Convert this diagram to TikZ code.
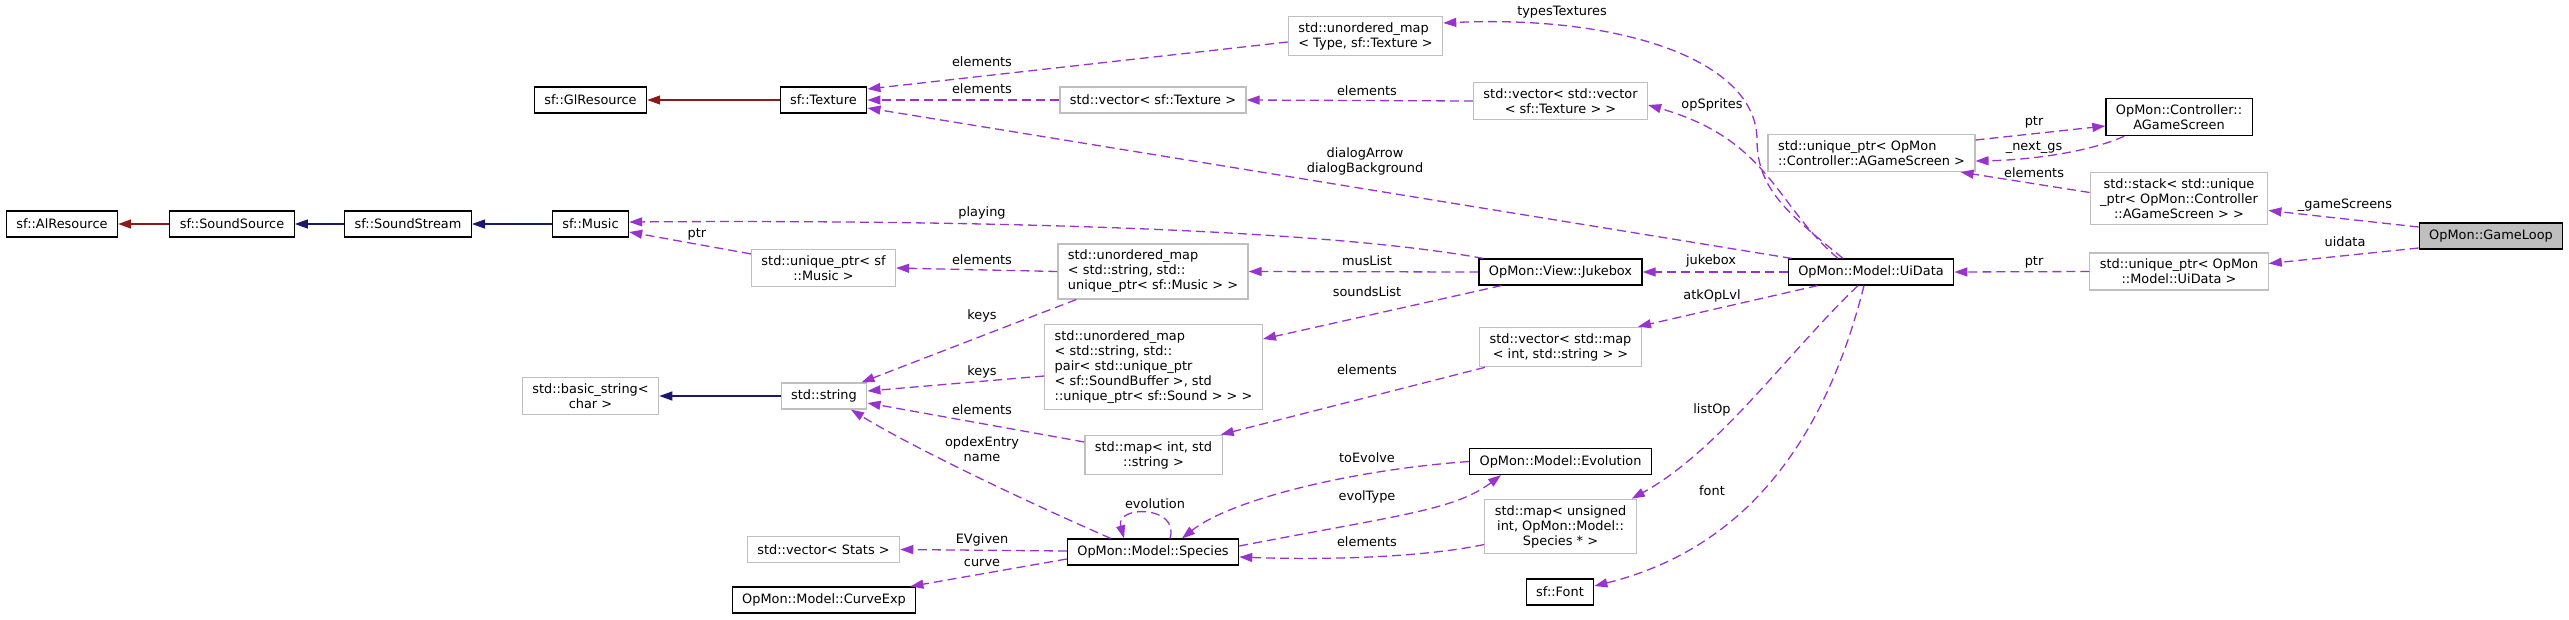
\documentclass[tikz,border=0pt]{standalone}
\usepackage{fontspec}
\setmainfont{DejaVu Sans}
\usetikzlibrary{arrows.meta}
\definecolor{orchid}{HTML}{9A32CD}
\definecolor{firebrick}{HTML}{8B1A1A}
\definecolor{midnight}{HTML}{191970}
\definecolor{grey75}{HTML}{BFBFBF}

\begin{document}
\begin{tikzpicture}[x=1pt, y=-1pt,
    cls/.style={rectangle, draw=black, line width=1.2pt, fill=white, inner xsep=10pt, inner ysep=6pt, minimum height=26pt, align=center, font=\fontsize{12.9}{15}\selectfont},
    tmpl/.style={cls, draw=grey75},
    root/.style={cls, fill=grey75},
    lbl/.style={inner sep=0pt, align=center, font=\fontsize{12.9}{15}\selectfont},
    inherit/.style={line width=1.3pt, -{Triangle[length=13pt, width=9pt]}},
    usage/.style={draw=orchid, line width=1.3pt, dash pattern=on 9pt off 5pt, -{Triangle[length=13pt, width=9pt]}}]

    \useasboundingbox (0,0) rectangle (2569,619);

    \node [cls] (alres) at (62,224) {sf::AlResource};
    \node [cls] (sndsrc) at (232,224) {sf::SoundSource};
    \node [cls] (sndstream) at (408,224) {sf::SoundStream};
    \node [cls] (music) at (590.5,224) {sf::Music};
    \node [cls] (glres) at (590.5,100) {sf::GlResource};
    \node [cls] (texture) at (823.5,100) {sf::Texture};
    \node [tmpl] (uptrmusic) at (823.5,268) {std::unique\_ptr< sf\\::Music >};
    \node [tmpl] (basicstr) at (590.5,396) {std::basic\_string<\\char >};
    \node [tmpl] (string) at (824,396) {std::string};
    \node [tmpl] (vecstats) at (823.5,549.5) {std::vector< Stats >};
    \node [cls] (curve) at (824,600) {OpMon::Model::CurveExp};
    \node [tmpl, align=left] (umaptype) at (1365.5,36) {std::unordered\_map\\< Type, sf::Texture >};
    \node [tmpl] (vectex) at (1153,100) {std::vector< sf::Texture >};
    \node [tmpl, align=left] (umapmusic) at (1153,271.5) {std::unordered\_map\\< std::string, std::\\unique\_ptr< sf::Music > >};
    \node [tmpl, align=left] (umapsound) at (1153.5,367) {std::unordered\_map\\< std::string, std::\\pair< std::unique\_ptr\\< sf::SoundBuffer >, std\\::unique\_ptr< sf::Sound > > >};
    \node [tmpl] (mapint) at (1153.5,455) {std::map< int, std\\::string >};
    \node [cls] (species) at (1153,552) {OpMon::Model::Species};
    \node [tmpl] (vecvec) at (1560.5,101) {std::vector< std::vector\\< sf::Texture > >};
    \node [cls] (jukebox) at (1560.5,272) {OpMon::View::Jukebox};
    \node [tmpl] (vecmap) at (1560.5,347) {std::vector< std::map\\< int, std::string > >};
    \node [cls] (evolution) at (1560.5,461.5) {OpMon::Model::Evolution};
    \node [tmpl] (mapuns) at (1560.5,526.5) {std::map< unsigned\\int, OpMon::Model::\\Species * >};
    \node [cls] (font) at (1560,592) {sf::Font};
    \node [tmpl, align=left] (uptrgs) at (1871.5,153) {std::unique\_ptr< OpMon\\::Controller::AGameScreen >};
    \node [cls] (uidata) at (1871,272) {OpMon::Model::UiData};
    \node [cls] (agscreen) at (2179,117) {OpMon::Controller::\\AGameScreen};
    \node [tmpl] (stack) at (2179,198.5) {std::stack< std::unique\\\_ptr< OpMon::Controller\\::AGameScreen > >};
    \node [tmpl] (uptrui) at (2179,271.5) {std::unique\_ptr< OpMon\\::Model::UiData >};
    \node [root] (gameloop) at (2491,236) {OpMon::GameLoop};

    \draw [inherit, firebrick] (texture) -- (glres);
    \draw [inherit, firebrick] (sndsrc) -- (alres);
    \draw [inherit, midnight] (sndstream) -- (sndsrc);
    \draw [inherit, midnight] (music) -- (sndstream);
    \draw [inherit, midnight] (string) -- (basicstr);

    \draw [usage] ([yshift=-6pt]umaptype.west) -- ([yshift=11pt]texture.east) node[lbl] at (982,62) {elements};
    \draw [usage] (vectex) -- (texture) node[lbl] at (982,89) {elements};
    \draw [usage] ([xshift=4pt]uidata.north west) -- ([yshift=-8pt]texture.east) node[lbl] at (1365,161.5) {dialogArrow\\dialogBackground};
    \draw [usage] (vecvec.west) -- (vectex.east) node[lbl] at (1367,91) {elements};
    \draw [usage] ([xshift=-28pt]uidata.north) .. controls (1790,215) and (1757,190) .. (1757,140) .. controls (1757,60) and (1620,15) .. ([yshift=13pt]umaptype.east) node[lbl] at (1562,12) {typesTextures};
    \draw [usage] ([xshift=-33pt]uidata.north) .. controls (1775,205) and (1770,140) .. ([yshift=-4pt]vecvec.east) node[lbl] at (1712,105) {opSprites};
    \draw [usage] (uidata) -- (jukebox) node[lbl] at (1711,261) {jukebox};
    \draw [usage] ([xshift=5pt]jukebox.north west) .. controls (1300,225) and (900,220) .. ([yshift=2pt]music.east) node[lbl] at (982,213) {playing};
    \draw [usage] ([yshift=-5pt]uptrmusic.north west) -- ([yshift=-8pt]music.east) node[lbl] at (697,234) {ptr};
    \draw [usage] (umapmusic.west) -- (uptrmusic.east) node[lbl] at (982,260) {elements};
    \draw [usage] (jukebox.west) -- (umapmusic.east) node[lbl] at (1367,261) {musList};
    \draw [usage] ([xshift=23pt]jukebox.south west) -- ([yshift=28pt]umapsound.east) node[lbl] at (1367,292) {soundsList};
    \draw [usage] ([xshift=19pt]umapmusic.south west) -- ([xshift=-6pt]string.north east) node[lbl] at (982,316) {keys};
    \draw [usage] ([yshift=-9pt]umapsound.west) -- ([yshift=5pt]string.east) node[lbl] at (982,372) {keys};
    \draw [usage] ([yshift=13pt]mapint.west) -- ([yshift=-7pt]string.east) node[lbl] at (982,410) {elements};
    \draw [usage] ([xshift=44pt]species.north west) .. controls (1000,490) and (900,440) .. ([xshift=27pt]string.south) node[lbl] at (982,449.5) {opdexEntry\\name};
    \draw [usage] ([xshift=6pt]vecmap.south west) -- ([xshift=-2pt]mapint.north east) node[lbl] at (1367,370) {elements};
    \draw [usage] ([xshift=30pt]uidata.south west) -- ([xshift=-4pt]vecmap.north east) node[lbl] at (1712,296) {atkOpLvl};
    \draw [usage] ([xshift=17pt]species.north) .. controls (1180,505) and (1115,505) .. ([xshift=-29pt]species.north) node[lbl] at (1155,504) {evolution};
    \draw [usage] (evolution.west) .. controls (1350,470) and (1230,500) .. ([xshift=29pt]species.north) node[lbl] at (1367,458) {toEvolve};
    \draw [usage] ([yshift=6pt]species.east) .. controls (1400,515) and (1455,510) .. ([xshift=32pt]evolution.south west) node[lbl] at (1367,497) {evolType};
    \draw [usage] ([yshift=-18pt]mapuns.west) .. controls (1420,558) and (1320,560) .. ([yshift=-5pt]species.east) node[lbl] at (1367,542) {elements};
    \draw [usage] ([xshift=-13pt]uidata.south) .. controls (1790,350) and (1720,450) .. ([xshift=-5pt]mapuns.north east) node[lbl] at (1712,410) {listOp};
    \draw [usage] ([xshift=-7pt]uidata.south) .. controls (1830,420) and (1760,545) .. ([yshift=6pt]font.east) node[lbl] at (1712,491) {font};
    \draw [usage] ([yshift=1pt]species.west) -- (vecstats.east) node[lbl] at (982,540) {EVgiven};
    \draw [usage] ([yshift=-7pt]species.west) -- ([xshift=-6pt]curve.north east) node[lbl] at (982,563) {curve};
    \draw [usage] (uptrui.west) -- (uidata.east) node[lbl] at (2034,262) {ptr};
    \draw [usage] ([yshift=-12pt]gameloop.west) -- ([yshift=8pt]uptrui.east) node[lbl] at (2345,242) {uidata};
    \draw [usage] ([yshift=9pt]gameloop.west) -- ([yshift=-12pt]stack.east) node[lbl] at (2345,205) {\_gameScreens};
    \draw [usage] ([yshift=6pt]stack.west) -- ([xshift=-15pt]uptrgs.south east) node[lbl] at (2034,173) {elements};
    \draw [usage] ([yshift=13pt]uptrgs.east) -- ([yshift=-9pt]agscreen.west) node[lbl] at (2034,122) {ptr};
    \draw [usage] ([xshift=19pt]agscreen.south west) .. controls (2090,152) and (2030,160) .. ([yshift=-8pt]uptrgs.east) node[lbl] at (2034,147) {\_next\_gs};
\end{tikzpicture}
\end{document}
